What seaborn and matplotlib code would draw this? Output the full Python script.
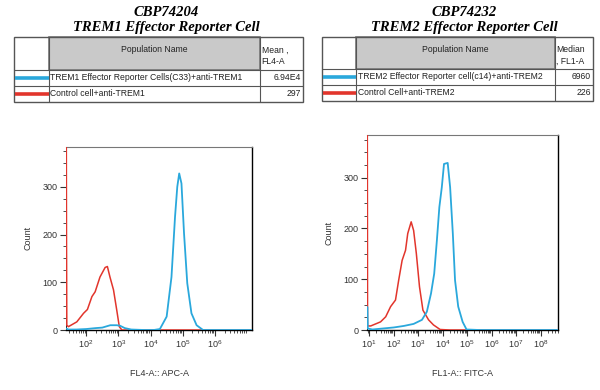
import matplotlib
matplotlib.use("Agg")
import matplotlib.pyplot as plt
import seaborn as sns
import numpy as np
import pandas as pd
from matplotlib.patches import Rectangle
from matplotlib.ticker import FixedLocator, LogLocator, MultipleLocator, NullFormatter

# ---- data (x in log10 of fluorescence, y = count) ----
# TREM1 panel (FL4-A :: APC-A)
trem1_ctrl_log = [1.385, 1.39, 1.40, 1.45, 1.71, 1.92, 2.04, 2.18, 2.28, 2.43, 2.59, 2.66,
                  2.74, 2.85, 2.95, 3.03, 3.11, 3.5, 5.6, 7.15]
trem1_ctrl_count = [400, 210, 10, 7, 17, 35, 43, 70, 80, 111, 131, 133,
                    111, 84, 42, 7, 0, 0, 0, 0]
trem1_cell_log = [1.39, 1.45, 1.7, 2.0, 2.3, 2.5, 2.75, 2.95, 3.05, 3.2, 3.4, 3.8, 4.1,
                  4.29, 4.50, 4.65, 4.76, 4.83, 4.89, 4.96, 5.04, 5.14, 5.27, 5.43, 5.63,
                  6.0, 7.15]
trem1_cell_count = [3, 1, 1, 2, 4, 5, 10, 10, 9, 4, 1, 0, 0,
                    2, 28, 111, 237, 300, 328, 307, 202, 98, 35, 10, 0,
                    0, 0]

# TREM2 panel (FL1-A :: FITC-A)
trem2_ctrl_log = [0.93, 0.935, 0.94, 1.07, 1.47, 1.68, 1.88, 2.08, 2.21, 2.35, 2.49, 2.58,
                  2.72, 2.82, 2.93, 3.06, 3.20, 3.43, 3.63, 3.90, 4.3, 8.7]
trem2_ctrl_count = [400, 223, 8, 8, 16, 26, 46, 59, 98, 137, 157, 190,
                    213, 196, 151, 85, 39, 20, 10, 1, 0, 0]
trem2_cell_log = [0.935, 0.95, 1.14, 2.01, 2.42, 2.82, 3.16, 3.36, 3.53, 3.66, 3.77, 3.87,
                  3.97, 4.06, 4.21, 4.31, 4.42, 4.51, 4.64, 4.82, 4.98, 5.5, 8.7]
trem2_cell_count = [45, 3, 1, 5, 8, 12, 20, 36, 72, 111, 177, 242,
                    281, 327, 329, 281, 190, 98, 46, 16, 1, 0, 0]

titles = [("CBP74204", "TREM1 Effector Reporter Cell"),
          ("CBP74232", "TREM2 Effector Reporter Cell")]
stat_headers = [("Mean ,", "FL4-A"), ("Median", ", FL1-A")]
pop_names = [["TREM1 Effector Reporter Cells(C33)+anti-TREM1", "Control cell+anti-TREM1"],
             ["TREM2 Effector Reporter cell(c14)+anti-TREM2", "Control Cell+anti-TREM2"]]
stat_values = [["6.94E4", "297"], ["6960", "226"]]
x_labels = ["FL4-A:: APC-A", "FL1-A:: FITC-A"]

BLUE = "#2aa8dc"
RED = "#e2352c"

sns.set_theme(style="white")
plt.rcParams["font.family"] = ["Liberation Sans", "DejaVu Sans"]

fig = plt.figure(figsize=(6, 3.9), dpi=100)

# overlay in pixel coordinates for titles + tables
ov = fig.add_axes([0, 0, 1, 1])
ov.set_xlim(0, 600)
ov.set_ylim(390, 0)
ov.axis("off")

tables = [dict(x0=14, x1=49, x2=260, x3=303, y0=37, y1=69.5, y2=86, y3=101.7, cx=166),
          dict(x0=322, x1=356, x2=555, x3=593, y0=37, y1=68.5, y2=85, y3=100.7, cx=464)]

for i, t in enumerate(tables):
    ov.text(t["cx"], 12, titles[i][0], ha="center", va="center", fontsize=10.5,
            family="Liberation Serif", weight="bold", style="italic", color="black")
    ov.text(t["cx"], 27, titles[i][1], ha="center", va="center", fontsize=10.5,
            family="Liberation Serif", weight="bold", style="italic", color="black")
    # header fill
    ov.add_patch(Rectangle((t["x1"], t["y0"]), t["x2"] - t["x1"], t["y1"] - t["y0"],
                           facecolor="#c9c9c9", edgecolor="#777777", lw=1.2))
    # outer box and grid lines
    ov.add_patch(Rectangle((t["x0"], t["y0"]), t["x3"] - t["x0"], t["y3"] - t["y0"],
                           facecolor="none", edgecolor="#555555", lw=1.0))
    for yy in (t["y1"], t["y2"]):
        ov.plot([t["x0"], t["x3"]], [yy, yy], color="#555555", lw=0.8)
    for xx in (t["x1"], t["x2"]):
        ov.plot([xx, xx], [t["y0"], t["y3"]], color="#555555", lw=0.8)
    ov.text((t["x1"] + t["x2"]) / 2, 49, "Population Name", ha="center", va="center",
            fontsize=6.2, color="#222222")
    ov.text(t["x2"] + 1.5, 50, stat_headers[i][0], ha="left", va="center", fontsize=6.2,
            color="#222222")
    ov.text(t["x2"] + 1.5, 61.5, stat_headers[i][1], ha="left", va="center", fontsize=6.2,
            color="#222222")
    rows = [((t["y1"] + t["y2"]) / 2, BLUE), ((t["y2"] + t["y3"]) / 2, RED)]
    for j, (yc, col) in enumerate(rows):
        ov.plot([t["x0"] + 1, t["x1"]], [yc, yc], color=col, lw=2.6, solid_capstyle="butt")
        ov.text(t["x1"] + 1.5, yc, pop_names[i][j], ha="left", va="center", fontsize=6.2,
                color="#222222")
        ov.text(t["x3"] - 2, yc, stat_values[i][j], ha="right", va="center", fontsize=6.2,
                color="#222222")

# histogram panels
panels = [
    dict(rect=[66 / 600, 60 / 390, 186 / 600, 183.3 / 390], xlim=(1.375, 7.15),
         majors=[2, 3, 4, 5, 6], ctrl=(trem1_ctrl_log, trem1_ctrl_count),
         cell=(trem1_cell_log, trem1_cell_count)),
    dict(rect=[366.7 / 600, 60 / 390, 191 / 600, 195 / 390], xlim=(0.905, 8.7),
         majors=[1, 2, 3, 4, 5, 6, 7, 8], ctrl=(trem2_ctrl_log, trem2_ctrl_count),
         cell=(trem2_cell_log, trem2_cell_count)),
]

for i, p in enumerate(panels):
    ax = fig.add_axes(p["rect"])
    ctrl = pd.DataFrame({"x": 10 ** np.array(p["ctrl"][0]), "count": p["ctrl"][1]})
    cell = pd.DataFrame({"x": 10 ** np.array(p["cell"][0]), "count": p["cell"][1]})
    sns.lineplot(data=ctrl, x="x", y="count", ax=ax, color=RED, lw=1.1, sort=False,
                 estimator=None, zorder=3)
    sns.lineplot(data=cell, x="x", y="count", ax=ax, color=BLUE, lw=1.3, sort=False,
                 estimator=None, zorder=4)
    ax.set_xscale("log")
    ax.set_xlim(10 ** p["xlim"][0], 10 ** p["xlim"][1])
    ax.set_ylim(0, 384)
    ax.xaxis.set_major_locator(FixedLocator([10.0 ** m for m in p["majors"]]))
    ax.xaxis.set_minor_locator(LogLocator(base=10, subs=np.arange(2, 10), numticks=20))
    ax.xaxis.set_minor_formatter(NullFormatter())
    ax.yaxis.set_major_locator(FixedLocator([0, 100, 200, 300]))
    ax.yaxis.set_minor_locator(MultipleLocator(25))
    ax.tick_params(axis="both", which="major", direction="out", length=4, width=0.8,
                   labelsize=6.5, colors="#333333", bottom=True, left=True, pad=2)
    ax.tick_params(axis="both", which="minor", direction="out", length=2, width=0.6,
                   colors="#333333", bottom=True, left=True)
    for s in ax.spines.values():
        s.set_color("black")
        s.set_linewidth(1.0)
    ax.spines["top"].set_color("#777777")
    ax.spines["top"].set_linewidth(0.8)
    ax.spines["left"].set_linewidth(0.6)
    ax.set_xlabel(x_labels[i], fontsize=6.5, color="#333333", labelpad=14)
    ax.set_ylabel("Count", fontsize=6.5, color="#333333", labelpad=7)
    ax.grid(False)

fig.savefig("out.png", dpi=100, facecolor="white")
